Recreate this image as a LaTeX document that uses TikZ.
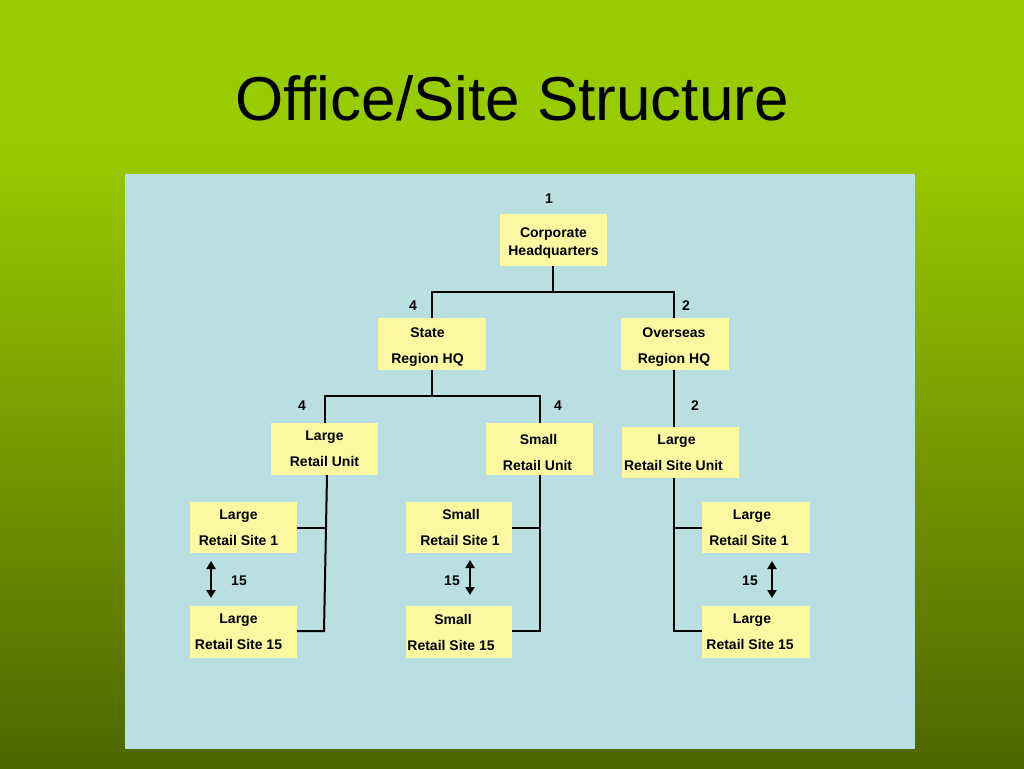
\documentclass[tikz,border=0pt]{standalone}
\usepackage{fontspec}
\setmainfont{Liberation Sans}
\usetikzlibrary{arrows.meta}
\definecolor{ltgreen}{HTML}{99CC00}
\definecolor{dkgreen}{HTML}{4E6600}
\definecolor{panel}{HTML}{BADFE3}
\definecolor{boxfill}{HTML}{FCF8A2}
\pgfdeclareverticalshading{bgshade}{100bp}{color(0bp)=(dkgreen); color(25bp)=(dkgreen); color(66bp)=(ltgreen); color(100bp)=(ltgreen)}
\newcommand\mv[2]{\hbox{\kern#1\relax#2\kern-#1\relax}}
\newcommand\up[1]{\rule{0pt}{#1}}
\tikzset{
  unitbox/.style={fill=boxfill, inner sep=0pt, align=center, font=\fontsize{14}{26}\selectfont\bfseries},
  numlabel/.style={inner sep=0pt, font=\fontsize{14}{16}\selectfont\bfseries},
  link/.style={line width=2pt, black},
  span/.style={line width=2pt, black, {Triangle[length=8pt,width=9pt]}-{Triangle[length=8pt,width=9pt]}}
}
\begin{document}
\begin{tikzpicture}[x=1pt,y=-1pt]
\useasboundingbox (0,0) rectangle (1024,768);
\shade[shading=bgshade] (0,0) rectangle (1024,768);
\fill[panel] (125,174) rectangle (915,749);
\node[inner sep=0pt, font=\fontsize{62}{70}\selectfont] (title) at (512,98) {Office/Site Structure};

% boxes
\node[unitbox, font=\fontsize{14}{18}\selectfont\bfseries, minimum width=107pt, minimum height=52pt] (chq) at (553.5,240) {\up{16pt}Corporate\\Headquarters};
\node[unitbox, minimum width=108pt, minimum height=52pt] (state) at (431.5,344) {\mv{-4pt}{\up{16pt}State}\\\mv{-4pt}{Region HQ}};
\node[unitbox, minimum width=108pt, minimum height=52pt] (over) at (675,344) {\mv{-1pt}{\up{16pt}Overseas}\\\mv{-1pt}{Region HQ}};
\node[unitbox, minimum width=107pt, minimum height=52pt] (lru) at (324.5,449) {Large\\Retail Unit};
\node[unitbox, minimum width=107pt, minimum height=52pt] (sru) at (539.5,449) {\mv{-1pt}{\up{18pt}Small}\\\mv{-2pt}{Retail Unit}};
\node[unitbox, minimum width=117pt, minimum height=51pt] (lrsu) at (680.5,452.5) {\mv{-4pt}{Large}\\\mv{-7pt}{Retail Site Unit}};

\node[unitbox, minimum width=107pt, minimum height=51pt] (lrs1) at (243.5,527.5) {\mv{-5pt}{Large}\\\mv{-5pt}{Retail Site 1}};
\node[unitbox, minimum width=107pt, minimum height=52pt] (lrs15) at (243.5,632) {\mv{-5pt}{Large}\\\mv{-5pt}{Retail Site 15}};
\node[unitbox, minimum width=106pt, minimum height=51pt] (srs1) at (459,527.5) {\mv{2pt}{Small}\\\mv{1pt}{Retail Site 1}};
\node[unitbox, minimum width=106pt, minimum height=52pt] (srs15) at (459,632) {\mv{-6pt}{Small}\\\mv{-8pt}{Retail Site 15}};
\node[unitbox, minimum width=108pt, minimum height=51pt] (rrs1) at (756,527.5) {\mv{-4pt}{Large}\\\mv{-7pt}{Retail Site 1}};
\node[unitbox, minimum width=108pt, minimum height=52pt] (rrs15) at (756,632) {\mv{-4pt}{Large}\\\mv{-6pt}{Retail Site 15}};

% count labels
\node[numlabel] (n1) at (549,199) {1};
\node[numlabel] (n4a) at (413,306) {4};
\node[numlabel] (n2a) at (686,306) {2};
\node[numlabel] (n4b) at (302,406) {4};
\node[numlabel] (n4c) at (558,406) {4};
\node[numlabel] (n2b) at (695,406) {2};
\node[numlabel] (n15a) at (239,581) {15};
\node[numlabel] (n15b) at (452,581) {15};
\node[numlabel] (n15c) at (750,581) {15};

% connectors
\coordinate (j1) at (553,292);
\draw[link] (chq.south -| j1) -- (j1);
\draw[link] (state.north -| 432,0) |- (j1) -| (over.north -| 674,0);
\coordinate (j2) at (432,396);
\draw[link] (state.south -| j2) -- (j2);
\draw[link] (lru.north) |- (j2) -| (sru.north);

\draw[link] (over.south -| 674,0) -- (lrsu.north -| 674,0);

\coordinate (lb) at (324,631);
\draw[link] (lru.south -| 327,0) -- (lb) -- (lrs15.east |- lb);
\draw[link] (lrs1.east) -- (325.6,527.5);

\coordinate (sb) at (539.5,631);
\draw[link] (sru.south) -- (sb) -- (srs15.east |- sb);
\draw[link] (srs1.east) -- (539.5,527.5);

\coordinate (rb) at (674,631);
\draw[link] (lrsu.south -| rb) -- (rb) -- (rrs15.west |- rb);
\draw[link] (674,527.5) -- (rrs1.west);

% spans
\coordinate (a1) at (211,561);
\coordinate (a2) at (211,598);
\draw[span] (a1) -- (a2);
\coordinate (b1) at (470,560);
\coordinate (b2) at (470,595);
\draw[span] (b1) -- (b2);
\coordinate (c1) at (772,561);
\coordinate (c2) at (772,598);
\draw[span] (c1) -- (c2);
\end{tikzpicture}
\end{document}
